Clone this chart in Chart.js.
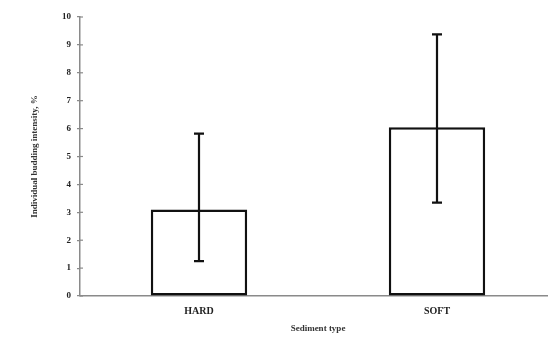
<!DOCTYPE html>
<html>
<head>
<meta charset="utf-8">
<script src="https://cdn.jsdelivr.net/npm/chart.js@4"></script>
<style>
  html, body { margin: 0; padding: 0; background: #fff; overflow: hidden; }
  #wrap { width: 556px; height: 338px; }
  canvas { filter: blur(0.35px); }
</style>
</head>
<body>
<div id="wrap"><canvas id="c" width="556" height="338"></canvas></div>
<script>
// Sediment type categories and mean budding intensity (%)
const categories = ['HARD', 'SOFT'];
const meanIntensity = [3.1, 6.05];
// Error bar ends (%)
const errLow = [1.25, 3.35];
const errHigh = [5.82, 9.38];
const yTicks = [0, 1, 2, 3, 4, 5, 6, 7, 8, 9, 10];

const serif = '"Liberation Serif", "Times New Roman", serif';
const axisGrey = '#8a8a8a';

// Vertical error bars with caps, plus short ticks crossing the y axis
const errorBars = {
  id: 'errorBars',
  afterDatasetsDraw(chart) {
    const ctx = chart.ctx;
    const x = chart.scales.x, y = chart.scales.y;
    ctx.save();
    ctx.strokeStyle = '#111';
    ctx.lineWidth = 2.2;
    categories.forEach((c, i) => {
      const px = x.getPixelForValue(i);
      const yLo = y.getPixelForValue(errLow[i]);
      const yHi = y.getPixelForValue(errHigh[i]);
      ctx.beginPath();
      ctx.moveTo(px, yLo); ctx.lineTo(px, yHi);
      ctx.moveTo(px - 5, yHi); ctx.lineTo(px + 5, yHi);
      ctx.moveTo(px - 5, yLo); ctx.lineTo(px + 5, yLo);
      ctx.stroke();
    });
    // inner halves of y-axis ticks
    ctx.strokeStyle = axisGrey;
    ctx.lineWidth = 1.2;
    const ax = chart.chartArea.left;
    yTicks.forEach(v => {
      const py = y.getPixelForValue(v);
      ctx.beginPath();
      ctx.moveTo(ax, py); ctx.lineTo(ax + 3, py);
      ctx.stroke();
    });
    ctx.restore();
  }
};

new Chart(document.getElementById('c'), {
  type: 'bar',
  data: {
    labels: categories,
    datasets: [{
      data: meanIntensity,
      backgroundColor: '#fff',
      borderColor: '#111',
      borderWidth: 2.5,
      borderSkipped: false,
      categoryPercentage: 1,
      barPercentage: 0.405
    }]
  },
  options: {
    responsive: false,
    animation: false,
    events: [],
    layout: { padding: { top: 17, left: 0, right: 0, bottom: 0 } },
    plugins: { legend: { display: false }, tooltip: { enabled: false } },
    scales: {
      x: {
        offset: true,
        grid: { display: false, drawTicks: false },
        border: { display: true, color: axisGrey, width: 1.5 },
        ticks: {
          color: '#222', padding: 9,
          font: { family: serif, size: 10, weight: 'bold' }
        },
        title: {
          display: true, text: 'Sediment type', color: '#333',
          font: { family: serif, size: 9, weight: 'bold' },
          padding: { top: 10 }
        },
        afterFit(s) { s.height = 42; }
      },
      y: {
        min: 0, max: 10,
        afterBuildTicks(s) { s.ticks = yTicks.map(v => ({ value: v })); },
        grid: { display: true, drawOnChartArea: false, drawTicks: true, tickLength: 3, color: axisGrey, lineWidth: 1.2 },
        border: { display: true, color: axisGrey, width: 1.5 },
        ticks: {
          color: '#222', padding: 6,
          font: { family: serif, size: 9, weight: 'bold' }
        },
        title: {
          display: true, text: 'Individual budding intensity, %', color: '#333',
          font: { family: serif, size: 9, weight: 'bold' },
          padding: { top: 29, bottom: 0 }
        },
        afterFit(s) { s.width = 80; }
      }
    }
  },
  plugins: [errorBars]
});
</script>
</body>
</html>
